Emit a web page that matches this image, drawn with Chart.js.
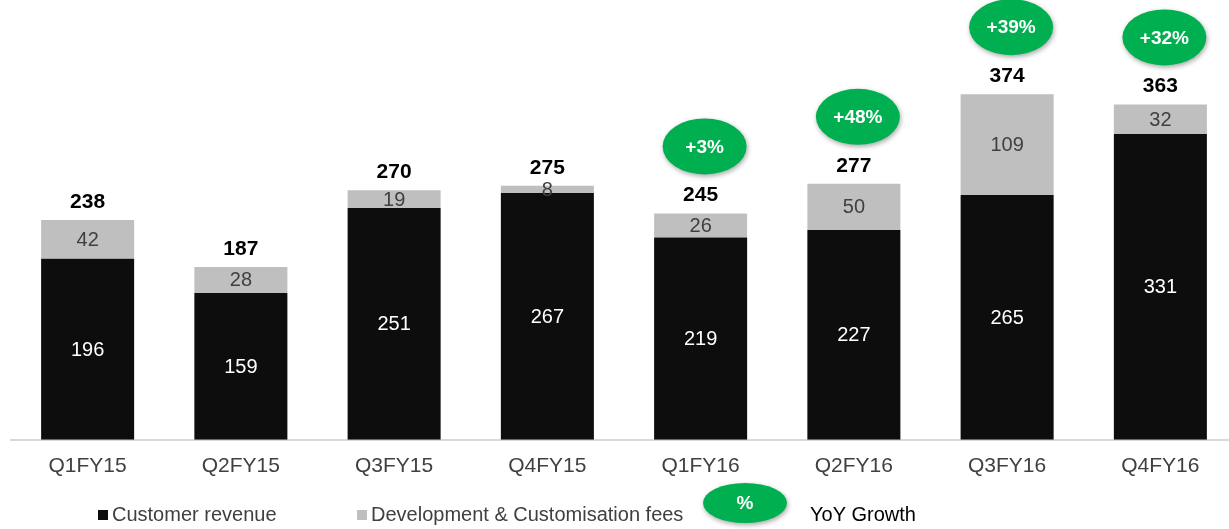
<!DOCTYPE html>
<html>
<head>
<meta charset="utf-8">
<script src="https://cdn.jsdelivr.net/npm/chart.js@4/dist/chart.umd.min.js"></script>
<style>
  html, body { margin: 0; padding: 0; background: #fff; overflow: hidden; }
  canvas { display: block; }
</style>
</head>
<body>
<canvas id="revChart" width="1240" height="529"></canvas>
<script>
// Dados do gráfico
const quarters = ['Q1FY15', 'Q2FY15', 'Q3FY15', 'Q4FY15', 'Q1FY16', 'Q2FY16', 'Q3FY16', 'Q4FY16'];
const customerRevenue = [196, 159, 251, 267, 219, 227, 265, 331];
const devFees = [42, 28, 19, 8, 26, 50, 109, 32];
const totals = [238, 187, 270, 275, 245, 277, 374, 363];
const yoyGrowth = [null, null, null, null, 3, 48, 39, 32];

const FONT = '"Liberation Sans", Arial, sans-serif';
const GREEN = '#00b050';

function greenEllipse(ctx, x, y, rx, ry, text, size) {
    ctx.save();
    ctx.shadowColor = 'rgba(0,0,0,0.35)';
    ctx.shadowBlur = 5;
    ctx.shadowOffsetX = 1;
    ctx.shadowOffsetY = 2;
    ctx.fillStyle = GREEN;
    ctx.beginPath();
    ctx.ellipse(x, y, rx, ry, 0, 0, Math.PI * 2);
    ctx.fill();
    ctx.restore();
    ctx.save();
    ctx.fillStyle = '#fff';
    ctx.font = 'bold ' + size + 'px ' + FONT;
    ctx.textAlign = 'center';
    ctx.textBaseline = 'middle';
    ctx.fillText(text, x, y + 1);
    ctx.restore();
}

// Rótulos dos valores, bolhas de crescimento e legenda
const labelsPlugin = {
    id: 'labelsPlugin',
    afterDatasetsDraw(chart) {
        const ctx = chart.ctx;
        const metaC = chart.getDatasetMeta(0);
        const metaD = chart.getDatasetMeta(1);
        ctx.save();
        ctx.textAlign = 'center';
        ctx.textBaseline = 'middle';
        quarters.forEach((q, i) => {
            const bc = metaC.data[i];
            const bd = metaD.data[i];
            // segmento preto
            ctx.fillStyle = '#ffffff';
            ctx.font = '20px ' + FONT;
            ctx.fillText(customerRevenue[i], bc.x, (bc.y + bc.base) / 2 + 1);
            // segmento cinza
            ctx.fillStyle = '#404040';
            ctx.fillText(devFees[i], bd.x, (bd.y + bd.base) / 2 + 1);
            // total
            ctx.fillStyle = '#000';
            ctx.font = 'bold 21px ' + FONT;
            ctx.fillText(totals[i], bd.x, bd.y - 18);
            if (yoyGrowth[i] !== null) {
                greenEllipse(ctx, bd.x + 4, bd.y - 67, 42, 28, '+' + yoyGrowth[i] + '%', 19);
            }
        });
        ctx.restore();

        // legenda
        const ly = 515;
        ctx.save();
        ctx.textBaseline = 'middle';
        ctx.textAlign = 'left';
        ctx.font = '20px ' + FONT;
        ctx.fillStyle = '#0d0d0d';
        ctx.fillRect(98, ly - 5, 10, 10);
        ctx.fillStyle = '#404040';
        ctx.fillText('Customer revenue', 112, ly);
        ctx.fillStyle = '#bfbfbf';
        ctx.fillRect(357, ly - 5, 10, 10);
        ctx.fillStyle = '#404040';
        ctx.fillText('Development & Customisation fees', 371, ly);
        ctx.restore();
        greenEllipse(ctx, 745, 503, 42, 20, '%', 19);
        ctx.save();
        ctx.font = '20px ' + FONT;
        ctx.fillStyle = '#000';
        ctx.textBaseline = 'middle';
        ctx.fillText('YoY Growth', 810, ly);
        ctx.restore();
    }
};

const revCtx = document.getElementById('revChart').getContext('2d');
new Chart(revCtx, {
    type: 'bar',
    data: {
        labels: quarters,
        datasets: [
            {
                label: 'Customer revenue',
                data: customerRevenue,
                backgroundColor: '#0d0d0d',
                barPercentage: 0.607,
                categoryPercentage: 1
            },
            {
                label: 'Development & Customisation fees',
                data: devFees,
                backgroundColor: '#bfbfbf',
                barPercentage: 0.607,
                categoryPercentage: 1
            }
        ]
    },
    options: {
        responsive: false,
        animation: false,
        layout: { padding: { left: 11, right: 3, top: 0, bottom: 36 } },
        plugins: {
            legend: { display: false },
            tooltip: { enabled: false }
        },
        scales: {
            x: {
                stacked: true,
                grid: { display: false, drawTicks: false },
                border: { display: true, color: '#d9d9d9', width: 2 },
                ticks: { color: '#404040', font: { family: FONT, size: 21 }, padding: 14 }
            },
            y: {
                stacked: true,
                display: false,
                min: 0,
                max: 476
            }
        }
    },
    plugins: [labelsPlugin]
});
</script>
</body>
</html>
